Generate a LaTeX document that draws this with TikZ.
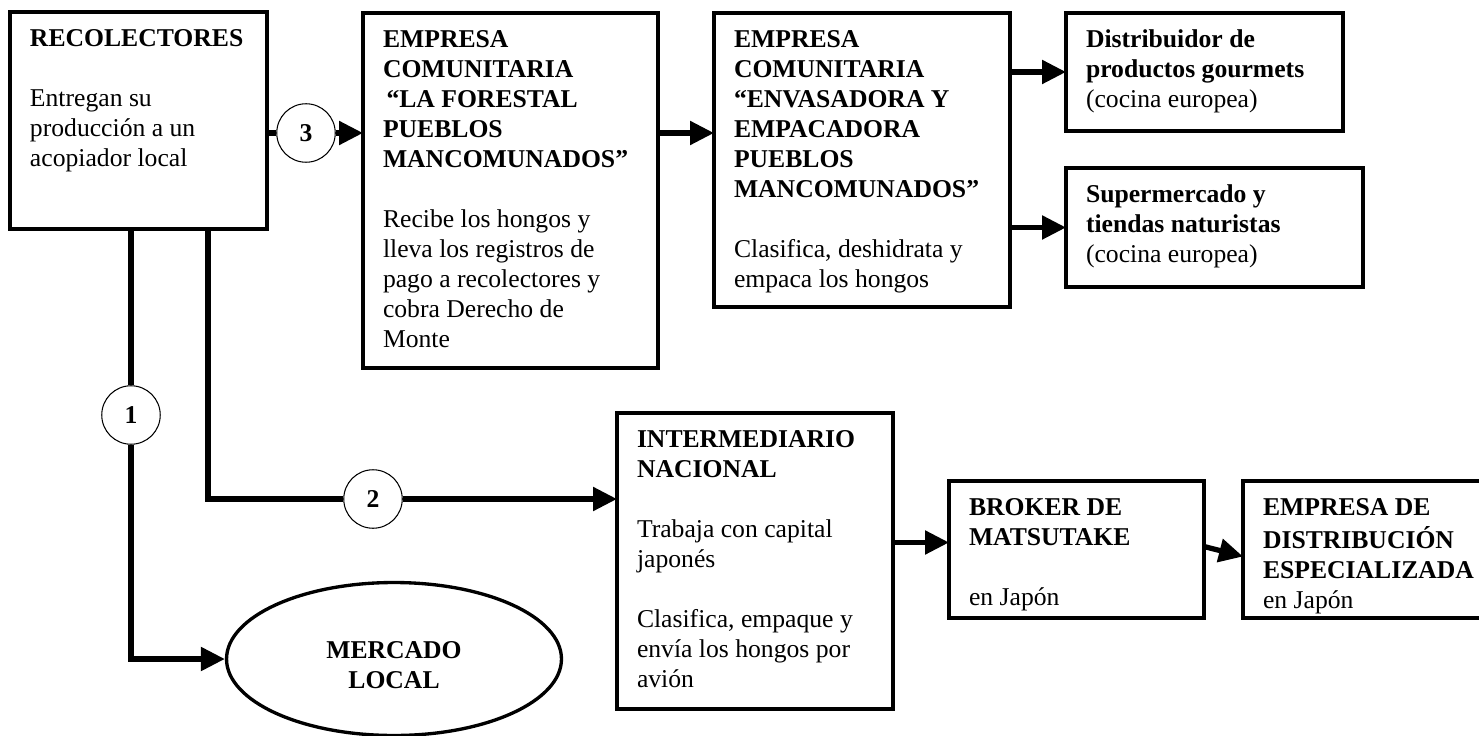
\documentclass[tikz,border=0pt]{standalone}
\usepackage{fontspec}
\setmainfont{Liberation Serif}
\usetikzlibrary{arrows.meta,positioning,calc,shapes.geometric}
\tikzset{>=Stealth}
\newcommand{\boxtxt}[3]{\parbox[t][#2][t]{#1}{\raggedright\strut#3}}
\tikzset{
  flowbox/.style={draw, line width=2.3pt, rectangle, anchor=north west, outer sep=0pt,
    inner xsep=0.4cm, inner ysep=0.28cm},
  market/.style={ellipse, draw, line width=1.9pt, minimum width=6.7cm, minimum height=3.06cm,
    inner sep=0pt, align=center, font=\bfseries\fontsize{14.6}{17.07}\selectfont},
  numcircle/.style={circle, draw, fill=white, line width=0.6pt, minimum size=1.17cm,
    inner sep=0pt, font=\bfseries\fontsize{14.6}{17.07}\selectfont},
  link/.style={line width=3pt},
  flowarrow/.style={link, -{Triangle[length=0.48cm,width=0.46cm]}}
}

\begin{document}
\begin{tikzpicture}[x=0.02cm, y=-0.02cm, every node/.style={font=\fontsize{14.6}{17.07}\selectfont}]
  \useasboundingbox (0,0) rectangle (1479,736);

  \node[flowbox] (reco) at (10,12) {\boxtxt{4.34cm}{3.78cm}{%
    \textbf{RECOLECTORES}\\[\baselineskip]Entregan su\\producción a un\\acopiador local}};
  \node[flowbox] (forestal) at (363,13) {\boxtxt{5.10cm}{6.54cm}{%
    \textbf{EMPRESA\\COMUNITARIA\\\hspace*{2pt}“LA FORESTAL\\PUEBLOS\\MANCOMUNADOS”}\\[\baselineskip]%
    Recibe los hongos y\\lleva los registros de\\pago a recolectores y\\cobra Derecho de\\Monte}};
  \node[flowbox] (envasa) at (714,13) {\boxtxt{5.12cm}{5.32cm}{%
    \textbf{EMPRESA\\COMUNITARIA\\“ENVASADORA Y\\EMPACADORA\\PUEBLOS\\MANCOMUNADOS”}\\[\baselineskip]%
    Clasifica, deshidrata y\\empaca los hongos}};
  \node[flowbox] (gourmet) at (1066,13) {\boxtxt{4.74cm}{1.80cm}{%
    \textbf{Distribuidor de\\productos gourmets}\\(cocina europea)}};
  \node[flowbox] (super) at (1066,168) {\boxtxt{5.14cm}{1.82cm}{%
    \textbf{Supermercado y\\tiendas naturistas}\\(cocina europea)}};
  \node[flowbox] (inter) at (617,413) {\boxtxt{4.72cm}{5.36cm}{%
    \textbf{INTERMEDIARIO\\NACIONAL}\\[\baselineskip]Trabaja con capital\\japonés\\[\baselineskip]%
    Clasifica, empaque y\\envía los hongos por\\avión}};
  \node[flowbox] (broker) at (949,481) {\boxtxt{4.30cm}{2.18cm}{%
    \textbf{BROKER DE\\MATSUTAKE}\\[\baselineskip]en Japón}};
  \node[flowbox] (distrib) at (1243,481) {\boxtxt{4.30cm}{2.18cm}{%
    \textbf{EMPRESA DE\\DISTRIBUCIÓN\\ESPECIALIZADA}\\en Japón}};
  \node[market] (mercado) at (394,659) {\rule{0pt}{0.58cm}MERCADO\\LOCAL};

  \node[numcircle] (c1) at (131,415) {1};
  \node[numcircle] (c2) at (373,499) {2};
  \node[numcircle] (c3) at (306,133) {3};

  \coordinate (r1) at ($(reco.south west)+(121,0)$);
  \coordinate (r2) at ($(reco.south west)+(198,0)$);

  \draw[link] (reco.east |- c3) -- (c3);
  \draw[flowarrow] (c3) -- (forestal.west |- c3);
  \draw[flowarrow] (forestal.east |- c3) -- (envasa.west |- c3);
  \draw[flowarrow] (envasa.east |- gourmet.west) -- (gourmet.west);
  \draw[flowarrow] (envasa.east |- super.west) -- (super.west);
  \draw[link] (r1) -- (c1);
  \draw[flowarrow] (c1) |- (mercado.west);
  \draw[link] (r2) |- (c2);
  \draw[flowarrow] (c2) -- (inter.west |- c2);
  \draw[flowarrow] ($(inter.east |- broker.west)+(0,-7)$) -- ($(broker.west)+(0,-7)$);
  \draw[flowarrow] ($(broker.east)+(0,-3)$) -- ($(distrib.west)+(0,7)$);
\end{tikzpicture}
\end{document}
